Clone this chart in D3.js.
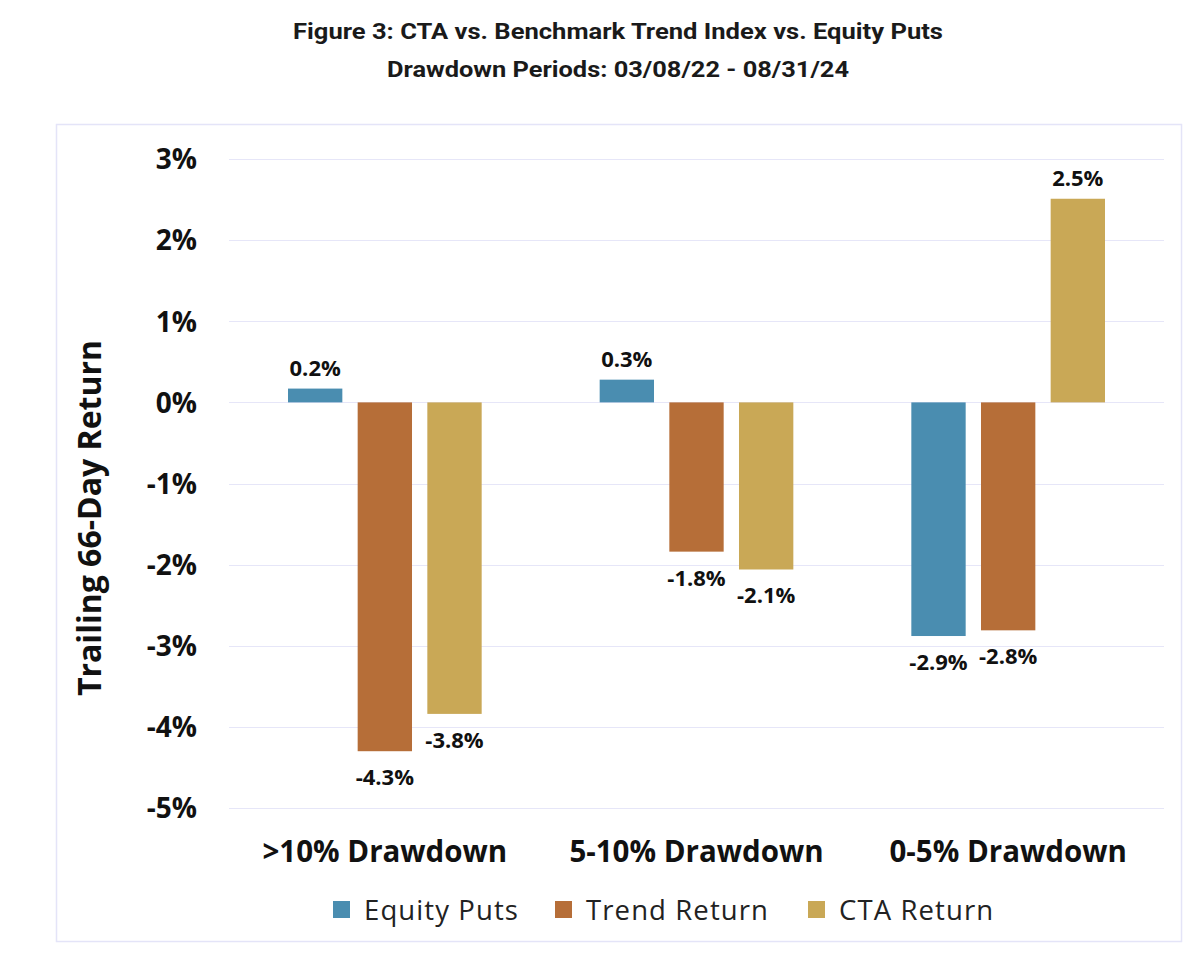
<!DOCTYPE html>
<html>
<head>
<meta charset="utf-8">
<script src="https://cdn.jsdelivr.net/npm/d3@7"></script>
<style>
  html, body { margin: 0; padding: 0; background: #fff; }
  svg { display: block; }
</style>
</head>
<body>
<svg id="chart" width="1200" height="967"></svg>
<script>
const categories = [">10% Drawdown", "5-10% Drawdown", "0-5% Drawdown"];
const seriesNames = ["Equity Puts", "Trend Return", "CTA Return"];
const equityPuts = [0.17, 0.28, -2.88];
const trendReturn = [-4.30, -1.84, -2.81];
const ctaReturn = [-3.84, -2.06, 2.51];
const yTicks = [3, 2, 1, 0, -1, -2, -3, -4, -5];
const colors = ["#4a8db0", "#b66e38", "#c9a856"];
const titleLines = ["Figure 3: CTA vs. Benchmark Trend Index vs. Equity Puts", "Drawdown Periods: 03/08/22 - 08/31/24"];
const yTitle = "Trailing 66-Day Return";

const seriesValues = [equityPuts, trendReturn, ctaReturn];
const svg = d3.select("#chart");
const fmt = v => d3.format(".1f")(v).replace("\u2212", "-") + "%";

// frame
svg.append("rect").attr("x", 56.5).attr("y", 124.5).attr("width", 1125).attr("height", 817)
  .attr("fill", "none").attr("stroke", "#e4e4f8").attr("stroke-width", 1.5);

// title
const titleWidths = [650, 462];
svg.selectAll("text.title").data(titleLines).join("text")
  .attr("class", "title")
  .attr("x", 618).attr("y", (d, i) => 39 + i * 38)
  .attr("text-anchor", "middle")
  .attr("font-family", "Roboto, 'Liberation Sans', sans-serif")
  .attr("font-weight", 700).attr("font-size", 22)
  .attr("textLength", (d, i) => titleWidths[i])
  .attr("lengthAdjust", "spacingAndGlyphs")
  .attr("fill", "#1a1a1a")
  .text(d => d);

const plotL = 229, plotR = 1164;
const y = d3.scaleLinear().domain([-5, 3]).range([808, 159]);
const x0 = d3.scaleBand().domain(categories).range([plotL, plotR]).paddingInner(0).paddingOuter(0);
const x1 = d3.scaleBand().domain(seriesNames).range([59, x0.bandwidth() - 59]).paddingInner(0.22).paddingOuter(0);

// gridlines
svg.append("g").selectAll("line").data(yTicks).join("line")
  .attr("x1", plotL).attr("x2", plotR)
  .attr("y1", d => Math.round(y(d)) + 0.5).attr("y2", d => Math.round(y(d)) + 0.5)
  .attr("stroke", "#e6e6f8").attr("stroke-width", 1);

// y axis
const yAxis = d3.axisLeft(y).tickValues(yTicks).tickFormat(d => d + "%").tickSize(0).tickPadding(0);
const ya = svg.append("g").attr("transform", "translate(197,0)").call(yAxis);
ya.select(".domain").remove();
ya.selectAll("text")
  .attr("font-family", "'Open Sans', sans-serif")
  .attr("font-weight", 700).attr("font-size", 28).attr("fill", "#111")
  .attr("dy", "0.35em");

// y title
svg.append("text")
  .attr("transform", "translate(101,518) rotate(-90)")
  .attr("text-anchor", "middle")
  .attr("font-family", "'Open Sans', sans-serif")
  .attr("font-weight", 700).attr("font-size", 32).attr("fill", "#111")
  .text(yTitle);

// bars
const data = [];
categories.forEach((c, ci) => seriesNames.forEach((s, si) => data.push({ c, s, si, v: seriesValues[si][ci] })));

const g = svg.append("g");
g.selectAll("rect").data(data).join("rect")
  .attr("x", d => x0(d.c) + x1(d.s))
  .attr("width", x1.bandwidth())
  .attr("y", d => y(Math.max(0, d.v)))
  .attr("height", d => Math.abs(y(d.v) - y(0)))
  .attr("fill", d => colors[d.si]);

g.selectAll("text").data(data).join("text")
  .attr("x", d => x0(d.c) + x1(d.s) + x1.bandwidth() / 2)
  .attr("y", d => d.v >= 0 ? y(d.v) - 13 : y(d.v) + 34)
  .attr("text-anchor", "middle")
  .attr("font-family", "'Open Sans', sans-serif")
  .attr("font-weight", 700).attr("font-size", 22).attr("fill", "#111")
  .text(d => fmt(d.v));

// category axis
svg.selectAll("text.cat").data(categories).join("text")
  .attr("class", "cat")
  .attr("x", d => x0(d) + x0.bandwidth() / 2)
  .attr("y", 862)
  .attr("text-anchor", "middle")
  .attr("font-family", "'Open Sans', sans-serif")
  .attr("font-weight", 700).attr("font-size", 29.5).attr("fill", "#111")
  .text(d => d);

// legend
const legendX = [333, 555, 808];
const lg = svg.append("g").selectAll("g").data(seriesNames).join("g")
  .attr("transform", (d, i) => `translate(${legendX[i]},910)`);
lg.append("rect").attr("x", 0).attr("y", -9).attr("width", 17).attr("height", 17)
  .attr("fill", (d, i) => colors[i]);
lg.append("text").attr("x", 31).attr("y", 0).attr("dy", "0.35em")
  .attr("font-family", "'Open Sans', sans-serif")
  .attr("font-size", 27.5).attr("letter-spacing", 1.1).attr("fill", "#222")
  .text(d => d);
</script>
</body>
</html>
